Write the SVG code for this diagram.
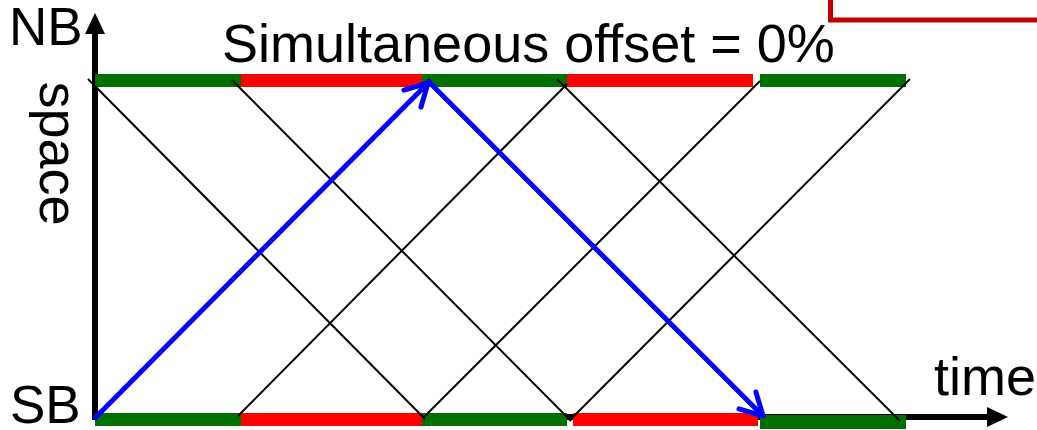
<svg xmlns="http://www.w3.org/2000/svg" width="1037" height="430" viewBox="0 0 1037 430">
  <style>
    .lbl { font-family: "Liberation Sans", Arial, sans-serif; fill: #000; }
    .axis { stroke: #000; stroke-width: 6; fill: none; }
    .green { fill: #007000; }
    .red { fill: #ff0000; }
    .traj { stroke: #000; stroke-width: 2; fill: none; }
    .path { stroke: #0000ff; stroke-width: 5; fill: none; marker-end: url(#openHead); }
  </style>
  <defs>
    <marker id="openHead" markerUnits="userSpaceOnUse" viewBox="-30 -20 40 40" refX="0" refY="0" markerWidth="40" markerHeight="40" orient="auto">
      <path d="M-22,-12 L0,0 L-22,12" stroke="#0000ff" stroke-width="5" fill="none" stroke-linecap="round" stroke-linejoin="round"/>
    </marker>
  </defs>

  <rect width="1037" height="430" fill="#fff"/>

  <!-- framed box running off the top-right corner -->
  <rect id="note-box" x="830.5" y="-40" width="260" height="60" fill="none" stroke="#c00000" stroke-width="5"/>

  <!-- axes -->
  <g id="axes">
    <line class="axis" x1="95" y1="417" x2="95" y2="31"/>
    <polygon points="95,13 85,34 105,34" fill="#000"/>
    <line class="axis" x1="92" y1="417" x2="990" y2="417"/>
    <polygon points="1008,417 987,407 987,427" fill="#000"/>
  </g>

  <!-- signal timing bars: NB (top) and SB (bottom) -->
  <g id="nb-signal">
    <rect class="green" x="95" y="74" width="146" height="13"/>
    <rect class="red" x="241" y="74" width="181" height="13"/>
    <rect class="green" x="422" y="74" width="145" height="13"/>
    <rect class="red" x="567" y="74" width="186" height="13"/>
    <rect class="green" x="760" y="74" width="146" height="13"/>
  </g>
  <g id="sb-signal">
    <rect class="green" x="95" y="413" width="146" height="13"/>
    <rect class="red" x="241" y="413" width="181" height="13"/>
    <rect class="green" x="422" y="413" width="145" height="13"/>
    <rect class="red" x="573" y="413" width="185" height="13"/>
    <rect class="green" x="760" y="415" width="146" height="14"/>
  </g>

  <!-- vehicle trajectories and progression bands -->
  <g id="connectors">
    <line class="traj" x1="88" y1="79" x2="425" y2="419"/>
    <line class="traj" x1="232" y1="80" x2="571" y2="421"/>
    <line class="traj" x1="557" y1="79" x2="900" y2="421"/>
    <line class="traj" x1="238" y1="416" x2="567" y2="84"/>
    <line class="traj" x1="423" y1="418" x2="760" y2="81"/>
    <line class="traj" x1="570" y1="420" x2="910" y2="79"/>
    <line class="path" x1="94" y1="419" x2="428" y2="83"/>
    <line class="path" x1="427" y1="80" x2="763" y2="416"/>
  </g>

  <!-- labels -->
  <text id="title" class="lbl" x="222" y="62" font-size="54">Simultaneous offset = 0%</text>
  <text id="nb" class="lbl" x="9" y="45" font-size="53">NB</text>
  <text id="sb" class="lbl" x="10" y="423" font-size="53">SB</text>
  <text id="space" class="lbl" font-size="54" transform="translate(40,81.5) rotate(90)">space</text>
  <text id="time" class="lbl" x="934" y="395" font-size="54">time</text>
</svg>
